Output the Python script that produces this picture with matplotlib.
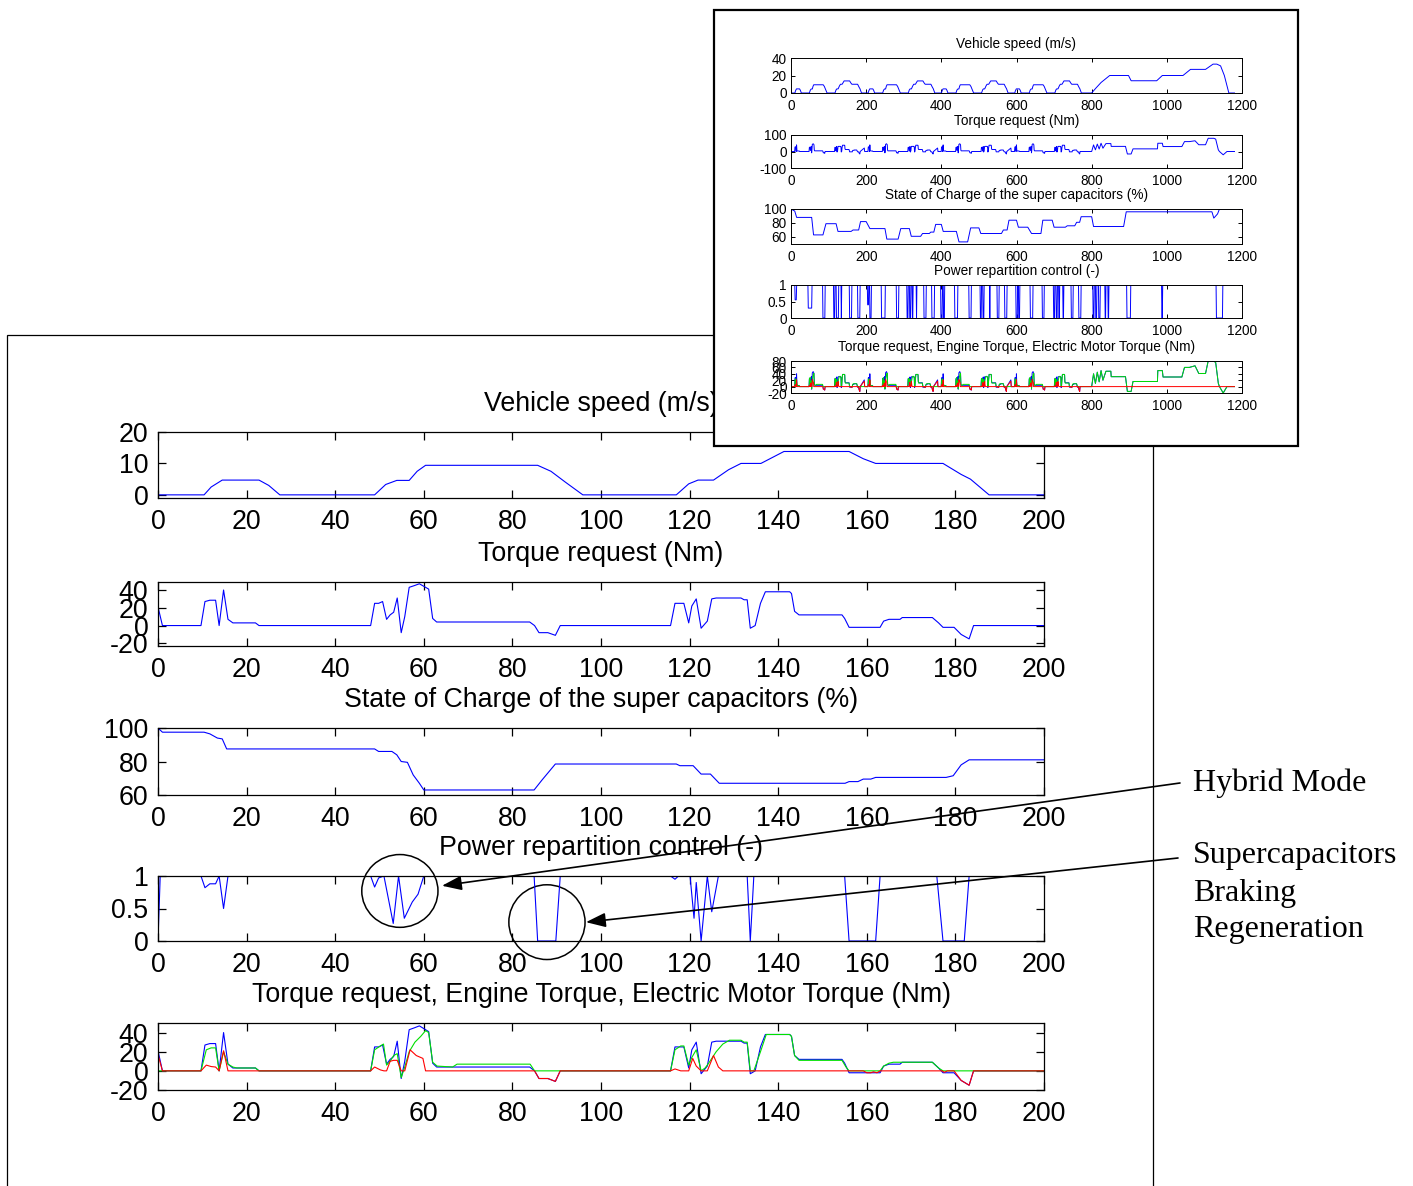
import numpy as np
import matplotlib.pyplot as plt
from matplotlib.patches import Rectangle, Ellipse

plt.rcParams['font.family'] = 'Liberation Sans'

W, H = 1413, 1186

# ---- main panel data (first 200 s) ----
spd_t = [0, 10.4, 12, 14.5, 22.8, 25, 27.5, 48.9, 51.4, 53.9, 56.7, 58.5, 60.4, 85.7, 88.7, 92, 95.9,
         117, 119.8, 121.9, 125.4, 128.8, 131.6, 136.1, 141.3, 156, 159.2, 162, 177.2, 181.3, 183.4, 187.6, 200]
spd_v = [0, 0, 2.5, 4.7, 4.7, 3, 0, 0, 3.3, 4.6, 4.6, 7.5, 9.4, 9.4, 7.5, 4, 0,
         0, 3.5, 4.7, 4.7, 8, 10, 10, 13.8, 13.8, 11.5, 10, 10, 6.5, 5, 0, 0]

treq_t = [0, 1, 9.7, 10.6, 11.7, 13, 13.8, 14.8, 15.8, 16.9, 22, 22.8, 48, 48.9, 49.8, 50.7, 51.6, 52.4,
          53.2, 54, 54.9, 55.7, 56.7, 57.9, 59, 60.4, 61.1, 62, 62.9, 83.9, 85, 86, 88, 89.7, 90.8, 115.7,
          116.7, 118.7, 119.8, 120.5, 121.5, 122.6, 124, 125, 126, 131.6, 132.3, 133, 133.7, 134.8, 136,
          137.1, 142.6, 143, 143.7, 144.7, 154.4, 155, 156, 163, 163.8, 165, 167.5, 168, 174.8, 176.2,
          177.2, 179.7, 181.3, 183.1, 184.1, 200]
treq_v = [21, 0, 0, 27, 28.5, 28.5, 0, 40, 7, 3, 3, 0, 0, 25, 25, 27, 7, 12,
          15, 31, -8, 10, 43, 45, 47, 43, 41, 8, 4, 4, 0, -8, -8, -11, 0, 0,
          25, 25, 3, 22, 30, -3, 5, 30, 31, 31, 29, 29, -3, 0, 25,
          38, 38, 36, 16, 12, 12, 8, -2, -2, 5, 7, 7, 9, 9, 3,
          -2, -2, -10, -15, 0, 0]

soc_t = [0, 1, 10.4, 11.7, 13.4, 14.5, 15.5, 48.9, 49.8, 52.8, 53.9, 54.9, 56.3, 57.6, 59, 60, 84.9, 86.7,
         89.7, 117, 117.8, 120.8, 122.6, 124.7, 126.7, 155.1, 156, 158, 159.2, 160.9, 162, 177.9, 179.5,
         181.3, 183.1, 200]
soc_v = [100, 97.5, 97.5, 96.5, 94, 93.5, 87.5, 87.5, 86, 86, 84, 80, 79.5, 72, 67, 63, 63, 69,
         78.5, 78.5, 77.5, 77.5, 72.5, 72.5, 67, 67, 68, 68, 69.5, 69.5, 70.5, 70.5, 71.5,
         78, 81, 81]

pwr_t = [0, 0.5, 9.7, 10.6, 11.7, 13, 13.8, 14.8, 15.8, 48, 48.9, 49.8, 51, 53.1, 54.3, 55.6, 57.4, 58.7,
         60, 84.9, 85.7, 89.8, 90.8, 115.7, 116.7, 117.5, 120.1, 121, 121.5, 122.6, 124, 125, 126.5, 133,
         133.7, 134.5, 155, 156, 162, 163, 175.8, 177.2, 182, 183.1, 200]
pwr_v = [0, 1, 1, 0.82, 0.88, 0.88, 1, 0.5, 1, 1, 0.83, 0.97, 1, 0.27, 1, 0.35, 0.6, 0.72,
         1, 1, 0, 0, 1, 1, 0.95, 1, 1, 0.35, 0.9, 0, 1, 0.45, 1, 1,
         0, 1, 1, 0, 0, 1, 1, 0, 0, 1, 1]

teng_t = [0, 9.7, 10.9, 12, 13, 13.8, 14.8, 15.8, 16.9, 17.8, 22, 22.8, 48, 48.9, 50.2, 50.9, 51.6, 52.4,
          53.2, 54, 54.9, 55.7, 56.7, 58, 59.3, 60.4, 61.1, 62, 63, 66.5, 67.5, 84, 85, 115.7, 116.7, 118,
          118.7, 119.8, 120.5, 121.5, 122.6, 123.5, 124.3, 126, 127.5, 129, 131.6, 132.3, 133, 133.7,
          134.5, 136, 137.3, 142.6, 143, 143.7, 144.7, 154.4, 155.3, 156, 163, 163.8, 165, 166, 174.8,
          176.2, 177.2, 200]
teng_v = [0, 0, 22, 24, 24, 0, 20, 7, 4, 3, 3, 0, 0, 22, 26, 28, 6, 10,
          16, 18, -7, 4, 20, 30, 36, 42, 40, 9, 5, 4, 7, 7, 0, 0, 22, 26,
          26, 6, 14, 22, 0, 3, 8, 20, 28, 32, 32, 30, 30, 0,
          0, 20, 38, 38, 36, 16, 11, 11, 4, 0, 0, 5, 8, 9, 9,
          3, 0, 0]

tmot_t = [0, 1, 9.7, 10.9, 12, 13, 13.8, 14.8, 15.8, 48, 48.9, 50.2, 51, 51.6, 52.4, 53.2, 54, 54.9, 55.7,
          56.9, 58.3, 59.8, 60.4, 85, 86, 88, 89.7, 90.8, 115.7, 116.7, 118, 119.8, 120.7, 121.5, 122.6,
          124, 125.4, 126.5, 127.5, 159.2, 160, 160.9, 161.5, 162.3, 163, 177, 177.5, 178.2, 179.7,
          181.3, 183.1, 184.1, 200]
tmot_v = [17, 0, 0, 6, 4.5, 4, 0, 21, 0, 0, 4, 1, 0, 0, 10, 11, 11, 0, 0,
          22, 16, 13, 0, 0, -8, -8, -11, 0, 0, 2, 0, 0, 13, 5, 0,
          0, 16, 4, 0, 0, -2, -2, -1, -2, 0, 0, -1.5, 0, 0,
          -10, -15, 0, 0]

# ---- inset data (whole cycle, 0-1180 s) ----
ece_starts = [0, 195, 390, 585]
ece_len = 195

eudc_t = [800, 810, 825, 848, 898, 905, 973, 988, 1043, 1063, 1103, 1123, 1133, 1143, 1153, 1165, 1180]
eudc_v = [0, 5, 12, 20, 20, 14, 14, 20, 20, 27, 27, 33, 33, 31, 20, 0, 0]

eudc_tq_t = [800, 805, 810, 815, 820, 825, 830, 838, 851, 852, 890, 895, 905, 910, 975, 976, 988, 990,
             1040, 1047, 1060, 1075, 1085, 1103, 1110, 1125, 1130, 1137, 1140, 1150, 1160, 1180]
eudc_tq_v = [0, 40, 10, 45, 15, 50, 20, 48, 48, 31, 31, -15, -15, 16, 16, 50, 50, 30,
             30, 60, 60, 65, 41, 41, 80, 80, 75, 10, 0, -20, 0, 0]

isoc_t = [0, 10, 15, 55, 60, 85, 93, 120, 125, 160, 165, 180, 185, 200, 210, 250, 255, 285, 292, 315,
          320, 345, 350, 368, 372, 380, 385, 400, 405, 440, 447, 470, 478, 500, 505, 560, 565, 575, 580,
          600, 605, 630, 640, 665, 670, 695, 700, 730, 735, 755, 760, 768, 772, 800, 805, 885, 892, 1120,
          1125, 1135, 1140, 1180]
isoc_v = [100, 97, 88, 88, 63, 63, 79, 79, 68, 68, 70, 70, 82, 82, 72, 72, 57, 57, 72, 72,
          61, 61, 65, 65, 67, 67, 78, 78, 68, 68, 53, 53, 73, 73, 65, 65, 70, 70, 84,
          84, 74, 74, 65, 65, 84, 84, 74, 74, 76, 76, 81, 81, 89, 89, 75, 75, 96, 96,
          87, 93, 100, 100]

# (start, end, level) of the drops of the power repartition control
ipwr_dips = [(10, 14, 0.55), (45, 55, 0.3), (84, 90, 0), (113, 116, 0), (120, 126, 0), (133, 134, 0),
             (155, 161, 0), (177, 183, 0), (203, 206, 0.4), (209, 213, 0), (240, 250, 0), (280, 286, 0),
             (308, 311, 0), (315, 318, 0), (322, 324, 0), (333, 334, 0), (353, 359, 0), (374, 381, 0),
             (398, 402, 0), (405, 408, 0), (435, 443, 0), (473, 479, 0), (503, 506, 0), (510, 513, 0),
             (528, 529, 0), (548, 553, 0), (568, 574, 0), (598, 602, 0), (605, 608, 0), (636, 643, 0),
             (668, 673, 0), (698, 701, 0), (705, 708, 0), (712, 714, 0), (723, 725, 0), (745, 750, 0),
             (765, 771, 0), (803, 806, 0), (810, 813, 0), (818, 822, 0), (835, 837, 0), (843, 845, 0),
             (893, 903, 0), (986, 988, 0), (1131, 1148, 0)]


def tile(t, v):
    t = np.asarray(t, float)
    v = np.asarray(v, float)
    keep = t < ece_len
    tt = np.concatenate([t[keep] + s for s in ece_starts])
    vv = np.concatenate([v[keep] for s in ece_starts])
    return tt, vv


def box(l, t, r, b):
    return [l / W, 1 - b / H, (r - l) / W, (b - t) / H]


def style(ax, xlim, ylim, yticks, ylabels, xticks, fs, tl, padx, pady, lw):
    ax.set_xlim(xlim)
    ax.set_ylim(ylim)
    ax.set_xticks(xticks)
    ax.set_yticks(yticks, ylabels)
    ax.tick_params(direction='in', top=True, right=True, length=tl, width=lw, labelsize=fs)
    ax.tick_params(axis='x', pad=padx)
    ax.tick_params(axis='y', pad=pady)
    for s in ax.spines.values():
        s.set_linewidth(lw)


fig = plt.figure(figsize=(W / 100, H / 100), dpi=100)

# frames
fig.add_artist(Rectangle((7 / W, -0.02), (1153 - 7) / W, (H - 335) / H + 0.02, transform=fig.transFigure,
                         fill=False, edgecolor='black', lw=0.9, zorder=-1))
fig.add_artist(Rectangle((714 / W, 1 - 446 / H), 584 / W, 436 / H, transform=fig.transFigure,
                         facecolor='white', edgecolor='black', lw=1.6, zorder=1))

green = '#00e000'

# ---- main panel ----
rows = [(432, 498), (582, 646), (728, 795), (876, 941), (1023, 1090)]
ax = [fig.add_axes(box(158, t, 1044, b)) for t, b in rows]
xt = np.arange(0, 201, 20)
fs = 19.3
lw = 0.8
tpad = 15

ax[0].plot(spd_t, spd_v, color='b', lw=lw)
style(ax[0], (0, 200), (-1, 20), [0, 10, 20], ['0', '10', '20'], xt, fs, 6, 8, 7, 0.9)
ax[0].set_title('Vehicle speed (m/s)', fontsize=fs, pad=tpad)

ax[1].plot(treq_t, treq_v, color='b', lw=lw)
style(ax[1], (0, 200), (-23, 49), [-20, 0, 20, 40], ['-20', '0', '20', '40'], xt, fs, 6, 8, 7, 0.9)
ax[1].set_title('Torque request (Nm)', fontsize=fs, pad=tpad)

ax[2].plot(soc_t, soc_v, color='b', lw=lw)
style(ax[2], (0, 200), (60, 100), [60, 80, 100], ['60', '80', '100'], xt, fs, 6, 8, 7, 0.9)
ax[2].set_title('State of Charge of the super capacitors (%)', fontsize=fs, pad=tpad)

ax[3].plot(pwr_t, pwr_v, color='b', lw=lw)
style(ax[3], (0, 200), (0, 1), [0, 0.5, 1], ['0', '0.5', '1'], xt, fs, 6, 8, 7, 0.9)
ax[3].set_title('Power repartition control (-)', fontsize=fs, pad=tpad)

ax[4].plot(treq_t, treq_v, color='b', lw=lw)
ax[4].plot(teng_t, teng_v, color=green, lw=lw)
ax[4].plot(tmot_t, tmot_v, color='r', lw=lw)
style(ax[4], (0, 200), (-20, 50), [-20, 0, 20, 40], ['-20', '0', '20', '40'], xt, fs, 6, 8, 7, 0.9)
ax[4].set_title('Torque request, Engine Torque, Electric Motor Torque (Nm)', fontsize=fs, pad=tpad)

# ---- inset ----
irows = [(58, 93), (135, 168), (209, 244), (285, 318), (361, 393)]
ia = [fig.add_axes(box(791, t, 1242, b)) for t, b in irows]
for a in ia:
    a.set_zorder(2)
ixt = np.arange(0, 1201, 200)
ifs = 9.8
ilw = 0.7
ipad = 7.5

st, sv = tile(spd_t, spd_v)
ispd_t = np.concatenate([st, eudc_t])
ispd_v = np.concatenate([sv, eudc_v])
qt, qv = tile(treq_t, treq_v)
itq_t = np.concatenate([qt, eudc_tq_t])
itq_v = np.concatenate([qv, eudc_tq_v])
et, ev = tile(teng_t, teng_v)
ieng_t = np.concatenate([et, eudc_tq_t])
ieng_v = np.concatenate([ev, eudc_tq_v])
mt, mv = tile(tmot_t, tmot_v)
imot_t = np.concatenate([mt, [800, 1180]])
imot_v = np.concatenate([mv, [0, 0]])

ipwr_t = [0, 1]
ipwr_v = [0, 1]
for s, e, d in ipwr_dips:
    ipwr_t += [s, s + 1, e, e + 1]
    ipwr_v += [1, d, d, 1]
ipwr_t.append(1180)
ipwr_v.append(1)

ia[0].plot(ispd_t, ispd_v, color='b', lw=ilw)
style(ia[0], (0, 1200), (0, 40), [0, 20, 40], ['0', '20', '40'], ixt, ifs, 3, 4.5, 3, 0.7)
ia[0].set_title('Vehicle speed (m/s)', fontsize=ifs, pad=ipad)

ia[1].plot(itq_t, itq_v, color='b', lw=ilw)
style(ia[1], (0, 1200), (-100, 100), [-100, 0, 100], ['-100', '0', '100'], ixt, ifs, 3, 4.5, 3, 0.7)
ia[1].set_title('Torque request (Nm)', fontsize=ifs, pad=ipad)

ia[2].plot(isoc_t, isoc_v, color='b', lw=ilw)
style(ia[2], (0, 1200), (50, 100), [60, 80, 100], ['60', '80', '100'], ixt, ifs, 3, 4.5, 3, 0.7)
ia[2].set_title('State of Charge of the super capacitors (%)', fontsize=ifs, pad=ipad)

ia[3].plot(ipwr_t, ipwr_v, color='b', lw=ilw)
style(ia[3], (0, 1200), (0, 1), [0, 0.5, 1], ['0', '0.5', '1'], ixt, ifs, 3, 4.5, 3, 0.7)
ia[3].set_title('Power repartition control (-)', fontsize=ifs, pad=ipad)

ia[4].plot(itq_t, itq_v, color='b', lw=ilw)
ia[4].plot(ieng_t, ieng_v, color=green, lw=ilw)
ia[4].plot(imot_t, imot_v, color='r', lw=ilw)
style(ia[4], (0, 1200), (-20, 80), [-20, 0, 20, 40, 60, 80], ['-20', '0', '20', '40', '60', '80'],
      ixt, ifs, 3, 4.5, 3, 0.7)
ia[4].set_title('Torque request, Engine Torque, Electric Motor Torque (Nm)', fontsize=ifs, pad=ipad)

# ---- annotations ----
ax[3].add_patch(Ellipse((54.6, 0.77), 17.2, 1.12, fill=False, edgecolor='black', lw=1.1, clip_on=False))
ax[3].add_patch(Ellipse((87.8, 0.29), 17.2, 1.15, fill=False, edgecolor='black', lw=1.1, clip_on=False))
arrow = dict(arrowstyle='-|>,head_length=0.6,head_width=0.22', color='black', lw=1.2,
             mutation_scale=20, shrinkA=0, shrinkB=0)
ax[3].annotate('', xy=(64.1, 0.85), xytext=(1180 / W, 1 - 783 / H), textcoords='figure fraction',
               arrowprops=arrow, annotation_clip=False)
ax[3].annotate('', xy=(96.6, 0.29), xytext=(1178 / W, 1 - 858 / H), textcoords='figure fraction',
               arrowprops=arrow, annotation_clip=False)

serif = 'Liberation Serif'
fig.text(1193 / W, 1 - 783 / H, 'Hybrid Mode', fontsize=23, family=serif, va='center', ha='left')
for label, yc in [('Supercapacitors', 856), ('Braking', 893), ('Regeneration', 930)]:
    fig.text(1193 / W, 1 - yc / H, label, fontsize=23, family=serif, va='center', ha='left')

fig.savefig('out.png', dpi=100)
